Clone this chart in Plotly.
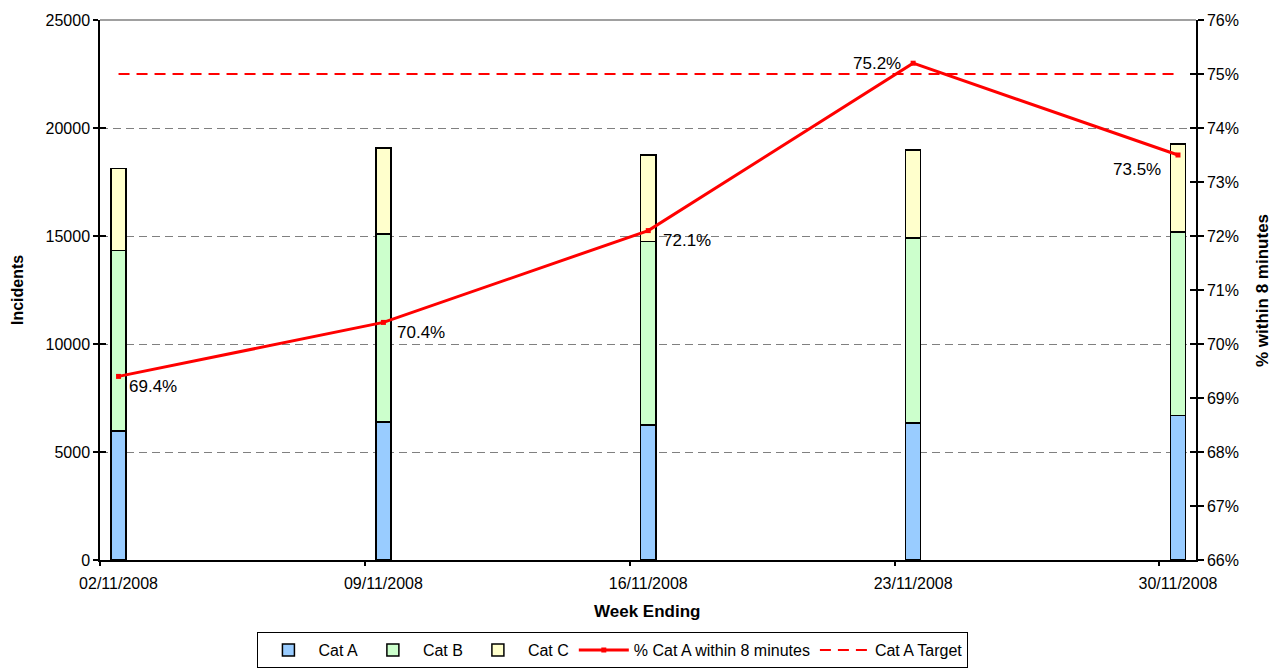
import plotly.graph_objects as go

# Weekly incident counts by category and Cat A 8-minute performance
weeks = ["02/11/2008", "09/11/2008", "16/11/2008", "23/11/2008", "30/11/2008"]
cat_a = [5970, 6390, 6250, 6340, 6700]
cat_b = [8350, 8700, 8490, 8560, 8490]
cat_c = [3810, 3980, 4010, 4080, 4070]
pct_within_8 = [0.694, 0.704, 0.721, 0.752, 0.735]
target = [0.75, 0.75, 0.75, 0.75, 0.75]

FONT = "Liberation Sans, Arial, sans-serif"
bar_w = 0.057
x_lo, x_hi = -0.07, 4.068

fig = go.Figure()

for name, vals, col in [("Cat A", cat_a, "#99CCFF"),
                        ("Cat B", cat_b, "#CCFFCC"),
                        ("Cat C", cat_c, "#FFFFCC")]:
    fig.add_trace(go.Bar(
        x=weeks, y=vals, name=name, width=bar_w,
        marker=dict(color=col, line=dict(color="black", width=1.5)),
        yaxis="y", xaxis="x",
    ))

fig.add_trace(go.Scatter(
    x=weeks, y=pct_within_8, name="% Cat A within 8 minutes",
    mode="lines+markers", yaxis="y2", xaxis="x",
    line=dict(color="#FF0000", width=3),
    marker=dict(symbol="square", size=5, color="#FF0000"),
))
fig.add_trace(go.Scatter(
    x=weeks, y=target, name="Cat A Target",
    mode="lines", yaxis="y2", xaxis="x",
    line=dict(color="#FF0000", width=2, dash="11px,7px"),
))

# value labels for the percentage line
offsets = [(8, -10, "left"), (12, -10, "left"), (13, -10, "left"),
           (-10, 0, "right"), (-15, -14, "right")]
for wk, v, (dx, dy, anc) in zip(weeks, pct_within_8, offsets):
    fig.add_annotation(x=wk, y=v, xref="x", yref="y2", text=f"{v*100:.1f}%",
                       showarrow=False, xanchor=anc, yanchor="middle",
                       xshift=dx, yshift=dy,
                       font=dict(family=FONT, size=17, color="black"))

# axis titles
fig.add_annotation(x=-0.0757, y=0.5, xref="paper", yref="paper", text="<b>Incidents</b>",
                   textangle=-90, showarrow=False, xanchor="center",
                   font=dict(family=FONT, size=16, color="black"))
fig.add_annotation(x=1.0602, y=0.5, xref="paper", yref="paper",
                   text="<b>% within 8 minutes</b>", textangle=-90, showarrow=False,
                   xanchor="center",
                   font=dict(family=FONT, size=17, color="black"))
fig.add_annotation(x=0.499, y=-0.096, xref="paper", yref="paper", text="<b>Week Ending</b>",
                   showarrow=False, yanchor="middle",
                   font=dict(family=FONT, size=17, color="black"))

# top border of plot area
fig.add_shape(type="line", xref="paper", yref="paper", x0=0, x1=1, y0=1, y1=1,
              line=dict(color="#808080", width=1.5))

tick_font = dict(family=FONT, size=16, color="black")

fig.update_layout(
    width=1284, height=671,
    margin=dict(l=100, r=88, t=20, b=111, autoexpand=False),
    paper_bgcolor="white", plot_bgcolor="white",
    barmode="stack",
    showlegend=True,
    legend=dict(orientation="h", x=0.468, xanchor="center", y=-0.200, yanchor="bottom",
                bordercolor="black", borderwidth=1, bgcolor="white",
                font=dict(family=FONT, size=16, color="black"),
                traceorder="normal", itemwidth=50, tracegroupgap=0),
    xaxis=dict(type="category", range=[x_lo, x_hi], showgrid=False,
               showline=True, linecolor="black", linewidth=1.5, automargin=False,
               ticks="", tickfont=tick_font, zeroline=False, ticklabelstandoff=8),
    xaxis2=dict(overlaying="x", range=[x_lo, x_hi], showgrid=False, showline=False,
                tickvals=[k + x_lo for k in range(5)], ticks="outside", ticklen=5,
                tickcolor="black", tickwidth=1.5, showticklabels=False, automargin=False,
                side="bottom", zeroline=False, anchor="y"),
    yaxis=dict(range=[0, 25000], dtick=5000, tickformat="d", showline=True,
               linecolor="black", automargin=False,
               linewidth=1.5, ticks="outside", ticklen=5, tickcolor="black",
               tickwidth=1.5, tickfont=tick_font, showgrid=True,
               gridcolor="#808080", gridwidth=1.2, griddash="8px,5px",
               zeroline=False),
    yaxis2=dict(range=[0.66, 0.76], dtick=0.01, tickformat=".0%", overlaying="y",
                side="right", showline=True, linecolor="black", linewidth=1.5,
                ticks="outside", ticklen=6, tickcolor="black", tickwidth=1.5,
                automargin=False, tickfont=tick_font, showgrid=False, zeroline=False),
    yaxis3=dict(range=[0, 25000], dtick=5000, overlaying="y", side="left",
                ticks="inside", ticklen=6, tickcolor="black", tickwidth=1.5,
                automargin=False,
                showticklabels=False, showgrid=False, showline=False, zeroline=False),
    yaxis4=dict(range=[0.66, 0.76], dtick=0.01, overlaying="y", side="right",
                ticks="inside", ticklen=6, tickcolor="black", tickwidth=1.5,
                automargin=False,
                showticklabels=False, showgrid=False, showline=False, zeroline=False),
)

# invisible traces that activate the tick-only overlay axes
fig.add_trace(go.Scatter(x=[0], y=[0], xaxis="x2", yaxis="y3", mode="markers",
                         marker=dict(opacity=0), showlegend=False, hoverinfo="skip"))
fig.add_trace(go.Scatter(x=[0], y=[0.7], xaxis="x2", yaxis="y4", mode="markers",
                         marker=dict(opacity=0), showlegend=False, hoverinfo="skip"))

fig.write_html("out.html")
